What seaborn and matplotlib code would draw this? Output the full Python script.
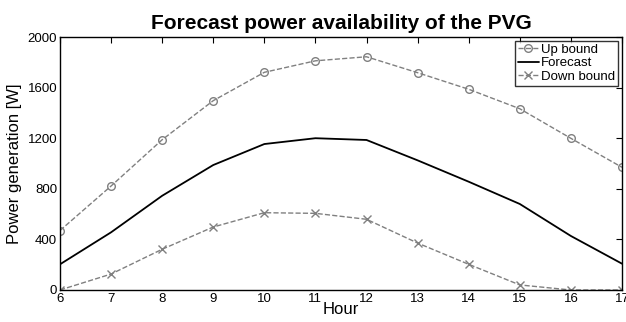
import matplotlib
matplotlib.use("Agg")
import matplotlib.pyplot as plt
import seaborn as sns
import pandas as pd

hours = [6, 7, 8, 9, 10, 11, 12, 13, 14, 15, 16, 17]
up_bound = [470, 822, 1188, 1497, 1721, 1812, 1844, 1718, 1587, 1433, 1199, 970]
forecast = [203, 456, 745, 988, 1154, 1200, 1186, 1025, 856, 680, 427, 208]
down_bound = [0, 126, 322, 498, 611, 606, 559, 371, 203, 40, 0, 0]
y_ticks = [0, 400, 800, 1200, 1600, 2000]

sns.set_theme(style="white")
plt.rcParams['font.family'] = ['Liberation Sans', 'DejaVu Sans']
plt.rcParams['text.color'] = 'black'
plt.rcParams['axes.labelcolor'] = 'black'

df = pd.DataFrame({"Hour": hours, "Up": up_bound, "Fc": forecast, "Down": down_bound})

fig = plt.figure(figsize=(6.26, 3.22), dpi=100)
ax = fig.add_axes([0.0958, 0.0994, 0.8978, 0.7856])

grey = "#808080"
sns.lineplot(data=df, x="Hour", y="Up", ax=ax, color=grey, linestyle="--", linewidth=1.0,
             marker="o", markersize=5.5, markerfacecolor="none", markeredgecolor=grey,
             markeredgewidth=1.0, label="Up bound")
sns.lineplot(data=df, x="Hour", y="Fc", ax=ax, color="black", linestyle="-", linewidth=1.3,
             label="Forecast")
sns.lineplot(data=df, x="Hour", y="Down", ax=ax, color=grey, linestyle="--", linewidth=1.0,
             marker="x", markersize=5.5, markeredgecolor=grey, markeredgewidth=1.0,
             label="Down bound")

ax.set_xlim(6, 17)
ax.set_ylim(0, 2000)
ax.set_xticks(hours)
ax.set_yticks(y_ticks)
ax.tick_params(direction="in", top=True, right=True, length=4, width=0.8,
               labelsize=9.5, colors="black", pad=2)
for s in ax.spines.values():
    s.set_color("black")
    s.set_linewidth(1.0)
ax.set_xlabel("Hour", fontsize=12, labelpad=-2, color="black")
ax.set_ylabel("Power generation [W]", fontsize=12, labelpad=4, color="black")
ax.set_title("Forecast power availability of the PVG", fontsize=15, fontweight="bold",
             pad=6, color="black")

leg = ax.legend(loc="upper right", fontsize=9.5, frameon=True, fancybox=False,
                handlelength=1.6, handletextpad=0.2, borderpad=0.2, labelspacing=0.1,
                borderaxespad=0.3)
leg.get_frame().set_edgecolor("black")
leg.get_frame().set_linewidth(1.0)
for t in leg.get_texts():
    t.set_color("black")

fig.savefig("out.png", dpi=100)
